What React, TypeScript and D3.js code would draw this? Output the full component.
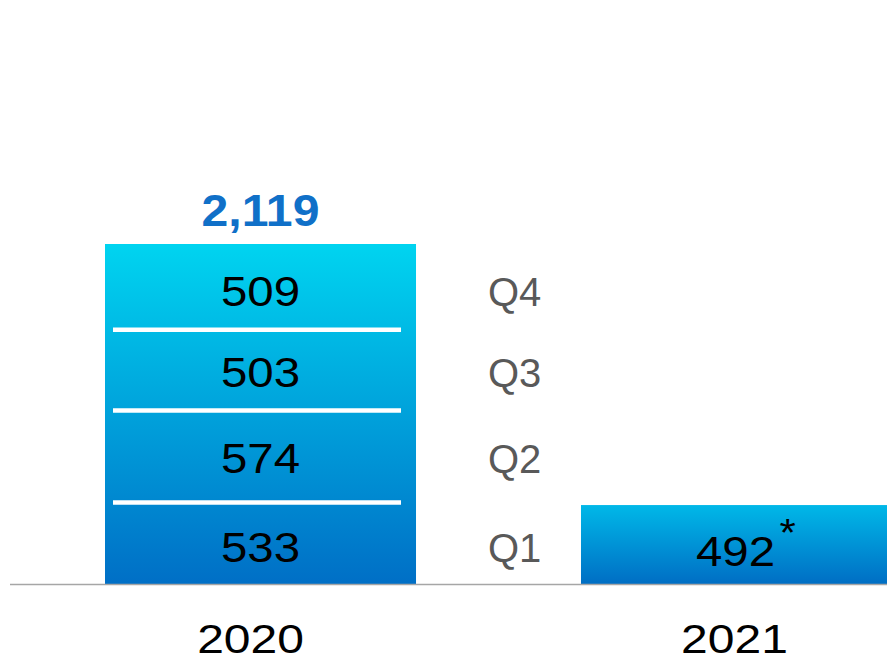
import React from "react";
import * as d3 from "d3";

const years = ["2020", "2021"];
const quarters = ["Q1", "Q2", "Q3", "Q4"];
const values2020 = [533, 574, 503, 509];
const values2021 = [492];
const totalLabel = "2,119";

const W = 887;
const H = 662;

function SText(props: {
  x: number;
  y: number;
  sx: number;
  size: number;
  fill: string;
  weight?: string;
  anchor?: string;
  children: React.ReactNode;
}) {
  return (
    <g transform={`translate(${props.x},${props.y}) scale(${props.sx},1)`}>
      <text
        x={0}
        y={0}
        textAnchor={props.anchor || "middle"}
        fontSize={props.size}
        fontWeight={props.weight || "normal"}
        fill={props.fill}
      >
        {props.children}
      </text>
    </g>
  );
}

export default function App() {
  const total2020 = d3.sum(values2020);
  const x = d3
    .scaleBand<string>()
    .domain(years)
    .range([105, 892])
    .paddingInner(0.3466)
    .paddingOuter(0);
  const y = d3.scaleLinear().domain([0, total2020]).range([584, 244]);

  const stack2020 = values2020.map((v, i) => {
    const start = d3.sum(values2020.slice(0, i));
    return { q: quarters[i], v, y0: start, y1: start + v };
  });
  const stack2021 = values2021.map((v, i) => {
    const start = d3.sum(values2021.slice(0, i));
    return { q: quarters[i], v, y0: start, y1: start + v };
  });

  const x20 = x("2020")!;
  const x21 = x("2021")!;
  const bw = x.bandwidth();
  const font = "'Liberation Sans', Arial, Helvetica, sans-serif";

  return (
    <svg
      width={W}
      height={H}
      style={{ position: "absolute", left: 0, top: 0, background: "#fff" }}
      fontFamily={font}
    >
      <defs>
        <linearGradient id="g2020" x1="0" y1="0" x2="0" y2="1">
          <stop offset="0%" stopColor="#00d4f0" />
          <stop offset="100%" stopColor="#006fc6" />
        </linearGradient>
        <linearGradient id="g2021" x1="0" y1="0" x2="0" y2="1">
          <stop offset="0%" stopColor="#00b8e8" />
          <stop offset="100%" stopColor="#006ec4" />
        </linearGradient>
      </defs>

      <rect
        x={x20}
        y={y(total2020)}
        width={bw}
        height={y(0) - y(total2020)}
        fill="url(#g2020)"
      />
      <rect
        x={x21}
        y={y(d3.sum(values2021))}
        width={bw}
        height={y(0) - y(d3.sum(values2021))}
        fill="url(#g2021)"
      />

      {stack2020.slice(0, -1).map((s) => (
        <line
          key={"sep" + s.q}
          x1={x20 + 8}
          x2={x20 + bw - 15}
          y1={y(s.y1) + 4}
          y2={y(s.y1) + 4}
          stroke="#ffffff"
          strokeWidth={4.5}
        />
      ))}

      <line x1={10} x2={W} y1={584.5} y2={584.5} stroke="#a6a6a6" strokeWidth={1.5} />

      {stack2020.map((s) => (
        <SText
          key={"l" + s.q}
          x={x20 + bw / 2}
          y={(y(s.y0) + y(s.y1)) / 2 + 21}
          sx={1.13}
          size={42}
          fill="#000"
        >
          {s.v}
        </SText>
      ))}

      {stack2020.map((s) => (
        <text
          key={"q" + s.q}
          x={488}
          y={(y(s.y0) + y(s.y1)) / 2 + 21}
          textAnchor="start"
          fontSize={40}
          fill="#595959"
        >
          {s.q}
        </text>
      ))}

      {stack2021.map((s) => {
        const cy = (y(s.y0) + y(s.y1)) / 2;
        const cx = x21 + bw / 2 - 1;
        return (
          <g key={"l21" + s.q}>
            <SText x={cx} y={cy + 21} sx={1.13} size={42} fill="#000">
              {s.v}
            </SText>
            <SText x={cx + 44} y={cy + 1} sx={1.1} size={38} fill="#000" anchor="start">
              *
            </SText>
          </g>
        );
      })}

      <SText
        x={x20 + bw / 2}
        y={y(total2020) - 18}
        sx={1.07}
        size={45}
        weight="bold"
        fill="#1070c8"
      >
        {totalLabel}
      </SText>

      {years.map((yr, i) => (
        <SText
          key={yr}
          x={x(yr)! + bw / 2 + (i === 0 ? -10 : -2)}
          y={653}
          sx={1.2}
          size={40}
          fill="#000"
        >
          {yr}
        </SText>
      ))}
    </svg>
  );
}
